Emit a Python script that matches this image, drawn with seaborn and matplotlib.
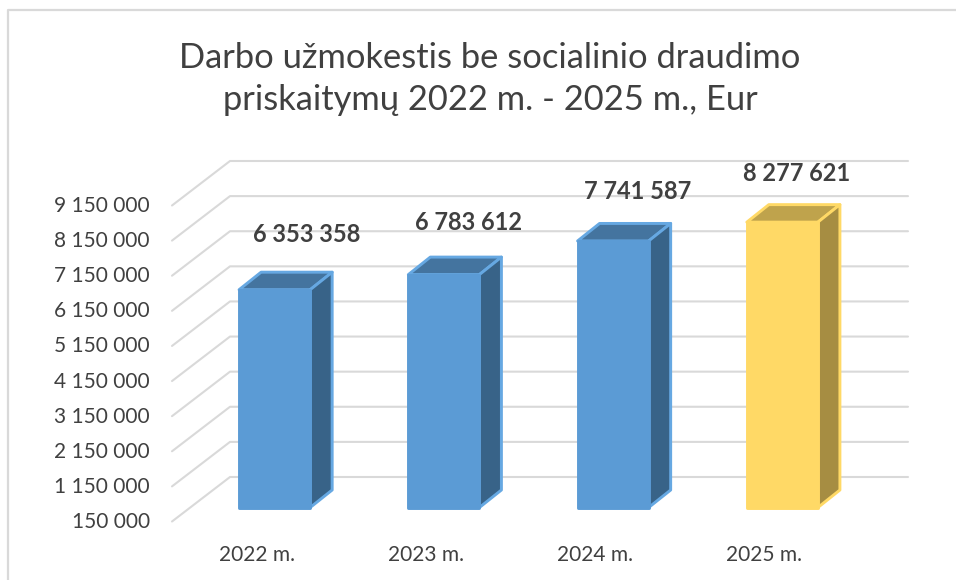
"""3D look column chart of salary costs, 2022-2025"""
import matplotlib.pyplot as plt
import pandas as pd
import seaborn as sns
from matplotlib.lines import Line2D
from matplotlib.patches import Polygon
from matplotlib.transforms import ScaledTranslation

years = ["2022 m.", "2023 m.", "2024 m.", "2025 m."]
values = [6353358, 6783612, 7741587, 8277621]
value_labels = ["6 353 358", "6 783 612", "7 741 587", "8 277 621"]
ticks = [150000, 1150000, 2150000, 3150000, 4150000, 5150000, 6150000, 7150000, 8150000, 9150000]
tick_labels = ["150 000", "1 150 000", "2 150 000", "3 150 000", "4 150 000",
               "5 150 000", "6 150 000", "7 150 000", "8 150 000", "9 150 000"]
title = "Darbo užmokestis be socialinio draudimo\npriskaitymų 2022 m. - 2025 m., Eur"

W, H = 956, 580
GRID = "#d9d9d9"
TEXT = "#404040"
front_colors = ["#5b9bd5", "#5b9bd5", "#5b9bd5", "#ffd966"]
top_colors = ["#44749f", "#44749f", "#44749f", "#bfa34c"]
side_colors = ["#386388", "#386388", "#386388", "#a68d42"]
edge_colors = ["#66a8e2", "#66a8e2", "#66a8e2", "#ffd966"]
# hand placed data labels, pixels from the top centre of each bar
label_offsets = [(32, 55), (25, 52), (25, 49), (14, 49)]

sns.set_theme(style="white")
plt.rcParams["font.family"] = ["Lato", "DejaVu Sans"]

fig = plt.figure(figsize=(W / 100, H / 100), dpi=100, facecolor="white")
ax = fig.add_axes([190 / W, 1 - 507.5 / H, 677 / W, 316 / H])

df = pd.DataFrame({"year": years, "value": values})
sns.barplot(data=df, x="year", y="value", hue="year", palette=front_colors,
            width=0.42, saturation=1, legend=False, ax=ax, zorder=3)
ax.set_xlim(-0.5, 3.5)
ax.set_ylim(ticks[0], ticks[-1])
ax.patch.set_alpha(0)
sns.despine(ax=ax, left=True, bottom=True)
ax.set_xlabel("")
ax.set_ylabel("")

# data units per pixel, everything in the fake depth is worked out from these
xpx = 4 / 677
ypx = (ticks[-1] - ticks[0]) / 316

# side wall and back wall lines
for t in ticks:
    xs = [-0.5 - 18 * xpx, -0.5 + 40 * xpx, 3.5 + 41 * xpx]
    ys = [t - 14 * ypx, t + 30.5 * ypx, t + 30.5 * ypx]
    ax.add_line(Line2D(xs, ys, color=GRID, lw=1.5, clip_on=False, zorder=0))

# turn the flat bars into boxes
EDGE_LW = 2.1
depth_x, depth_y = 22 * xpx, 17.5 * ypx
for i, bar in enumerate(ax.patches):
    x0, w = bar.get_x(), bar.get_width()
    x1 = x0 + w
    bar.set_y(ticks[0])
    bar.set_height(values[i] - ticks[0])
    bar.set_edgecolor(front_colors[i])
    bar.set_linewidth(EDGE_LW)
    bar.set_joinstyle("round")
    bar.set_clip_on(False)
    top = values[i]
    ax.add_patch(Polygon([(x0, top), (x1, top), (x1 + depth_x, top + depth_y), (x0 + depth_x, top + depth_y)],
                         closed=True, fc=top_colors[i], ec=edge_colors[i], lw=EDGE_LW, joinstyle="round",
                         clip_on=False, zorder=2))
    ax.add_patch(Polygon([(x1, ticks[0]), (x1 + depth_x, ticks[0] + depth_y),
                          (x1 + depth_x, top + depth_y), (x1, top)],
                         closed=True, fc=side_colors[i], ec=edge_colors[i], lw=EDGE_LW, joinstyle="round",
                         clip_on=False, zorder=2))
    ax.annotate(value_labels[i], (i, top), xytext=(label_offsets[i][0] * 0.72, label_offsets[i][1] * 0.72),
                textcoords="offset points", ha="center", va="center", fontsize=17,
                fontweight="bold", color=TEXT, annotation_clip=False)

ax.set_yticks(ticks, tick_labels)
ax.tick_params(axis="y", length=0, pad=28.8, labelsize=15, labelcolor=TEXT)
ax.tick_params(axis="x", length=0, pad=27, labelsize=15, labelcolor=TEXT)
shift_y = ScaledTranslation(0, -12.5 / 100, fig.dpi_scale_trans)
for label in ax.get_yticklabels():
    label.set_transform(label.get_transform() + shift_y)
shift_x = ScaledTranslation(-18 / 100, 0, fig.dpi_scale_trans)
for label in ax.get_xticklabels():
    label.set_transform(label.get_transform() + shift_x)

fig.text(490 / W, 1 - 79 / H, title, ha="center", va="center", fontsize=24.8,
         color=TEXT, linespacing=1.37)

# frame of the pasted chart, only top and left are in the crop
fig.add_artist(Line2D([8 / W, 8 / W, 1], [0, 1 - 10 / H, 1 - 10 / H], color=GRID, lw=1.6))

fig.savefig("out.png", dpi=100)
